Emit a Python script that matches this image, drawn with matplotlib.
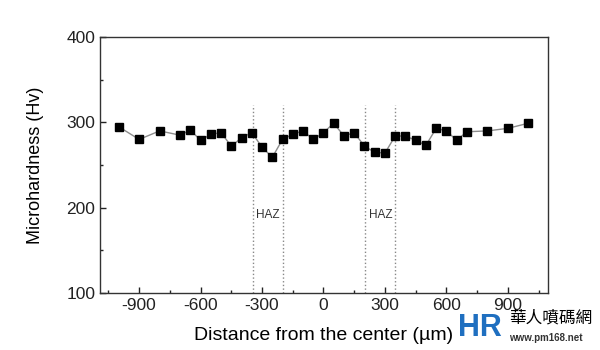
import matplotlib.pyplot as plt
from matplotlib.ticker import MultipleLocator, FuncFormatter

# 측정 위치 (µm) 와 미세경도 (Hv)
distance = [-1000, -900, -800, -700, -650, -600, -550, -500, -450, -400,
            -350, -300, -250, -200, -150, -100, -50, 0, 50, 100,
            150, 200, 250, 300, 350, 400, 450, 500, 550, 600,
            650, 700, 800, 900, 1000]
hardness = [295, 280, 290, 285, 291, 279, 286, 288, 272, 282,
            288, 271, 259, 280, 286, 290, 280, 288, 299, 284,
            288, 272, 265, 264, 284, 284, 279, 273, 293, 290,
            279, 289, 290, 293, 299]

haz_lines = [-345, -200, 205, 350]
haz_text_x = [-272, 278]

plt.rcParams['font.family'] = ['Liberation Sans', 'DejaVu Sans']

fig = plt.figure(figsize=(6, 3.5), dpi=100)
ax = fig.add_axes([0.167, 0.163, 0.746, 0.731])

ax.plot(distance, hardness, '-', color='#8c8c8c', lw=1.0, zorder=2)
ax.plot(distance, hardness, 's', color='black', ms=5.5, zorder=3)

for xv in haz_lines:
    ax.plot([xv, xv], [100, 320], ':', color='#888888', lw=1.0, zorder=1)
for xv in haz_text_x:
    ax.text(xv, 191, "HAZ", ha='center', va='center', fontsize=8.5, color='#333333')

ax.set_xlim(-1090, 1095)
ax.set_ylim(100, 400)
ax.xaxis.set_major_locator(MultipleLocator(300))
ax.xaxis.set_minor_locator(MultipleLocator(150))
ax.yaxis.set_major_locator(MultipleLocator(100))
ax.yaxis.set_minor_locator(MultipleLocator(50))
ax.xaxis.set_major_formatter(FuncFormatter(lambda v, p: "%d" % v))
ax.tick_params(which='both', direction='in', labelsize=12.5, width=1, colors='#222222')
ax.tick_params(which='major', length=4)
ax.tick_params(which='minor', length=2.5)
for s in ax.spines.values():
    s.set_linewidth(1.0)
    s.set_color('#333333')

ax.set_xlabel("Distance from the center (µm)", fontsize=14, va='center')
ax.set_ylabel("Microhardness (Hv)", fontsize=13, va='center')
ax.xaxis.set_label_coords(0.5, -0.168)
ax.yaxis.set_label_coords(-0.145, 0.5)

# 워터마크
fig.text(0.763, 0.02, "HR", fontsize=22, fontweight='bold', color='#1f6fc0', ha='left', va='bottom')
fig.text(0.848, 0.09, "華人噴碼網", fontsize=12, color='black', ha='left', va='center',
         family=['Noto Sans CJK TC', 'DejaVu Sans'])
fig.text(0.848, 0.035, "www.pm168.net", fontsize=7, color='#333333', ha='left', va='center',
         fontweight='bold')

fig.savefig("out.png", dpi=100)
